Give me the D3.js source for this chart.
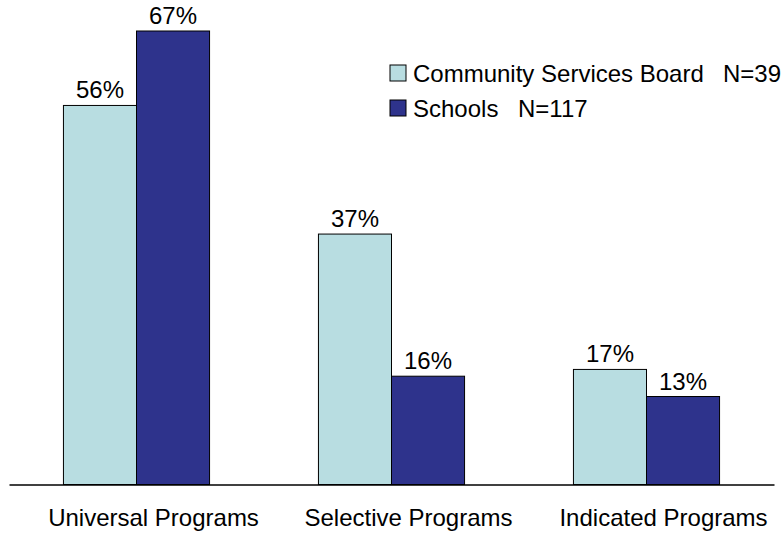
<!DOCTYPE html>
<html>
<head>
<meta charset="utf-8">
<script src="https://cdn.jsdelivr.net/npm/d3@7"></script>
<style>
  html, body { margin: 0; padding: 0; background: #fff; }
  svg { display: block; }
  text { font-family: "Liberation Sans", Arial, sans-serif; fill: #000; }
</style>
</head>
<body>
<script>
const categories = ["Universal Programs", "Selective Programs", "Indicated Programs"];
const seriesNames = ["Community Services Board", "Schools"];
const seriesN = ["N=39", "N=117"];
const csbValues = [56, 37, 17];
const schoolValues = [67, 16, 13];
const colors = ["#B8DDE1", "#2E338C"];

const W = 784, H = 534;
const FS = 24;
const svg = d3.select("body").append("svg").attr("width", W).attr("height", H);

const baseY = 484.5;
const x0 = d3.scaleBand().domain(categories).range([9, 774]).paddingInner(0.427).paddingOuter(0.2135);
const x1 = d3.scaleBand().domain(seriesNames).range([0, x0.bandwidth()]);
const y = d3.scaleLinear().domain([0, 67]).range([baseY, 31]);

const data = categories.map((c, i) => ({
  cat: c,
  vals: [
    { s: seriesNames[0], v: csbValues[i], color: colors[0] },
    { s: seriesNames[1], v: schoolValues[i], color: colors[1] }
  ]
}));

const g = svg.selectAll("g.grp").data(data).enter().append("g")
  .attr("class", "grp")
  .attr("transform", d => `translate(${x0(d.cat)},0)`);

g.selectAll("rect").data(d => d.vals).enter().append("rect")
  .attr("x", d => x1(d.s))
  .attr("y", d => y(d.v))
  .attr("width", x1.bandwidth())
  .attr("height", d => baseY - y(d.v))
  .attr("fill", d => d.color)
  .attr("stroke", "#000")
  .attr("stroke-width", 1);

g.selectAll("text.val").data(d => d.vals).enter().append("text")
  .attr("class", "val")
  .attr("x", d => x1(d.s) + x1.bandwidth() / 2)
  .attr("y", d => y(d.v) - 7)
  .attr("text-anchor", "middle")
  .attr("font-size", FS)
  .text(d => d.v + "%");

// baseline axis
const axis = d3.axisBottom(x0).tickSize(0).tickPadding(0);
const ax = svg.append("g").attr("transform", `translate(0,${baseY})`).call(axis);
ax.select(".domain").attr("stroke", "#000").attr("stroke-width", 1.3);
ax.selectAll(".tick text")
  .attr("font-size", FS)
  .attr("font-family", "Liberation Sans, Arial, sans-serif")
  .attr("fill", "#000")
  .attr("dy", 0)
  .attr("y", 41)
  .attr("dx", 17);

// legend
const leg = svg.append("g");
seriesNames.forEach((s, i) => {
  const ly = 65 + i * 35;
  leg.append("rect").attr("x", 390).attr("y", ly).attr("width", 16).attr("height", 16)
    .attr("fill", colors[i]).attr("stroke", "#000").attr("stroke-width", 1);
  leg.append("text").attr("x", 413).attr("y", ly + 17).attr("font-size", FS).text(s);
  leg.append("text").attr("x", i === 0 ? 723 : 518).attr("y", ly + 17).attr("font-size", FS).text(seriesN[i]);
});
</script>
</body>
</html>
